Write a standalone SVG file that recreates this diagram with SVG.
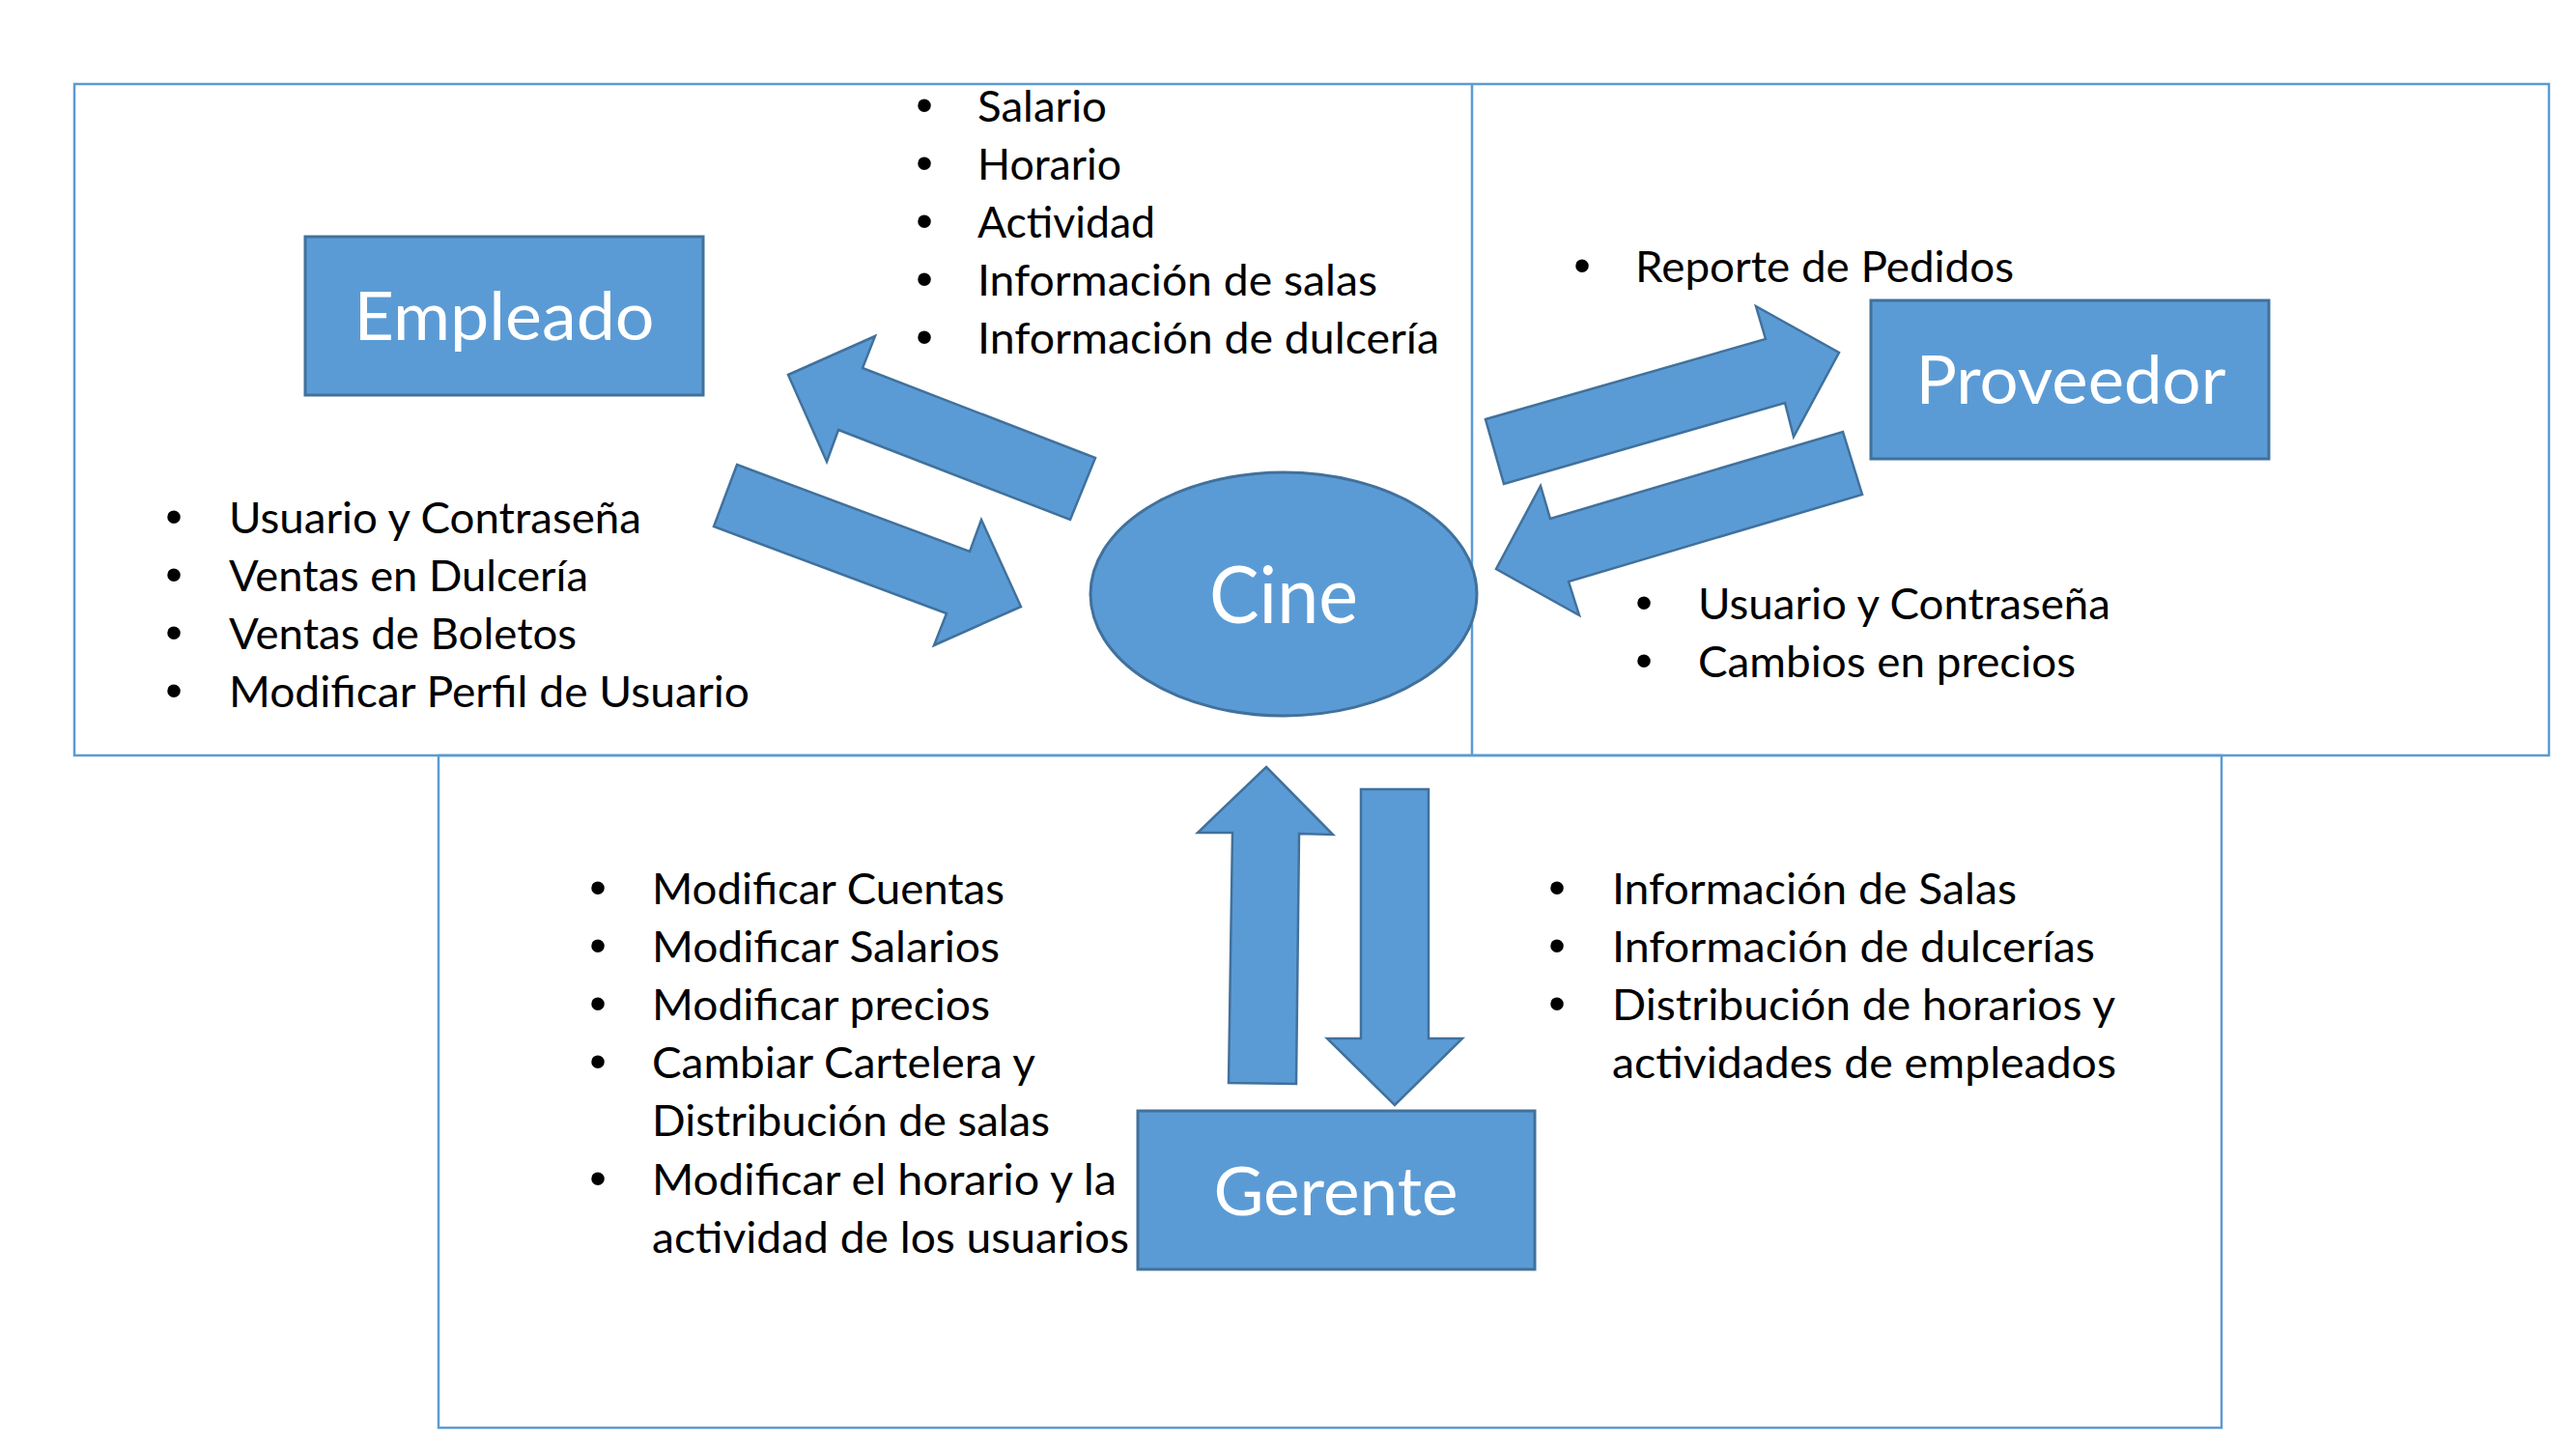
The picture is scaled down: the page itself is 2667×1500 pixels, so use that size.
<svg xmlns="http://www.w3.org/2000/svg" width="2667" height="1500" viewBox="0 0 2667 1500">
  <style>
    .frame { fill: none; stroke: #5B9BD5; stroke-width: 2.5; }
    .node { fill: #5B9BD5; stroke: #41719C; stroke-width: 3; }
    .arrow { fill: #5B9BD5; stroke: #41719C; stroke-width: 2.5; stroke-linejoin: miter; }
    .title { font-family: Lato, "Open Sans", sans-serif; font-size: 70px; fill: #FFFFFF; text-anchor: middle; }
    .cine { font-size: 81px; }
    .item { font-family: Lato, "Open Sans", sans-serif; font-size: 45px; fill: #000000; }
    .bullet { font-family: "Liberation Sans", Arial, sans-serif; font-size: 50px; fill: #000000; text-anchor: middle; }
  </style>
  <rect width="2667" height="1500" fill="#FFFFFF"/>

  <g id="frames">
    <rect class="frame" x="77" y="87" width="2562" height="695"/>
    <line class="frame" x1="1524" y1="87" x2="1524" y2="782"/>
    <rect class="frame" x="454" y="782" width="1846" height="696"/>
  </g>

  <g id="connectors">
    <polygon class="arrow" points="816,388 906,348 893,381 1134,474 1108,538 868,445 856,478"/>
    <polygon class="arrow" points="763,481 1004,571 1016,538 1057,628 967,668 980,635 739,545"/>
    <polygon class="arrow" points="1538,434 1828,351 1818,317 1904,365 1857,452 1848,417 1557,501"/>
    <polygon class="arrow" points="1908,447 1928,512 1624,602 1635,637 1549,589 1595,503 1605,537"/>
    <polygon class="arrow" points="1311,794 1380,864 1345,863 1342,1122 1272,1121 1276,862 1240,862"/>
    <polygon class="arrow" points="1409,817 1479,817 1479,1075 1514,1075 1444,1144 1374,1075 1409,1075"/>
  </g>

  <g id="empleado">
    <rect class="node" x="316" y="245" width="412" height="164"/>
    <text class="title" x="522" y="352" textLength="311" lengthAdjust="spacingAndGlyphs">Empleado</text>
  </g>

  <g id="cine">
    <ellipse class="node" cx="1329" cy="615" rx="200" ry="126"/>
    <text class="title cine" x="1329" y="645" textLength="154" lengthAdjust="spacingAndGlyphs">Cine</text>
  </g>

  <g id="proveedor">
    <rect class="node" x="1937" y="311" width="412" height="164"/>
    <text class="title" x="2144" y="418" textLength="321" lengthAdjust="spacingAndGlyphs">Proveedor</text>
  </g>

  <g id="gerente">
    <rect class="node" x="1178" y="1150" width="411" height="164"/>
    <text class="title" x="1383" y="1258" textLength="253" lengthAdjust="spacingAndGlyphs">Gerente</text>
  </g>

  <g id="list-empleado-recibe">
    <text class="bullet" x="957" y="126">•</text>
    <text class="bullet" x="957" y="186">•</text>
    <text class="bullet" x="957" y="246">•</text>
    <text class="bullet" x="957" y="306">•</text>
    <text class="bullet" x="957" y="366">•</text>
    <text class="item" x="1012" y="126" textLength="134" lengthAdjust="spacingAndGlyphs">Salario</text>
    <text class="item" x="1012" y="186" textLength="149" lengthAdjust="spacingAndGlyphs">Horario</text>
    <text class="item" x="1012" y="246" textLength="184" lengthAdjust="spacingAndGlyphs">Actividad</text>
    <text class="item" x="1012" y="306" textLength="414" lengthAdjust="spacingAndGlyphs">Información de salas</text>
    <text class="item" x="1012" y="366" textLength="478" lengthAdjust="spacingAndGlyphs">Información de dulcería</text>
  </g>

  <g id="list-empleado-envia">
    <text class="bullet" x="180" y="552">•</text>
    <text class="bullet" x="180" y="612">•</text>
    <text class="bullet" x="180" y="672">•</text>
    <text class="bullet" x="180" y="732">•</text>
    <text class="item" x="237" y="552" textLength="427" lengthAdjust="spacingAndGlyphs">Usuario y Contraseña</text>
    <text class="item" x="237" y="612" textLength="372" lengthAdjust="spacingAndGlyphs">Ventas en Dulcería</text>
    <text class="item" x="237" y="672" textLength="360" lengthAdjust="spacingAndGlyphs">Ventas de Boletos</text>
    <text class="item" x="237" y="732" textLength="539" lengthAdjust="spacingAndGlyphs">Modificar Perfil de Usuario</text>
  </g>

  <g id="list-proveedor-recibe">
    <text class="bullet" x="1638" y="292">•</text>
    <text class="item" x="1693" y="292" textLength="392" lengthAdjust="spacingAndGlyphs">Reporte de Pedidos</text>
  </g>

  <g id="list-proveedor-envia">
    <text class="bullet" x="1702" y="641">•</text>
    <text class="bullet" x="1702" y="701">•</text>
    <text class="item" x="1758" y="641" textLength="427" lengthAdjust="spacingAndGlyphs">Usuario y Contraseña</text>
    <text class="item" x="1758" y="701" textLength="391" lengthAdjust="spacingAndGlyphs">Cambios en precios</text>
  </g>

  <g id="list-gerente-envia">
    <text class="bullet" x="619" y="936">•</text>
    <text class="bullet" x="619" y="996">•</text>
    <text class="bullet" x="619" y="1056">•</text>
    <text class="bullet" x="619" y="1116">•</text>
    <text class="bullet" x="619" y="1237">•</text>
    <text class="item" x="675" y="936" textLength="365" lengthAdjust="spacingAndGlyphs">Modificar Cuentas</text>
    <text class="item" x="675" y="996" textLength="360" lengthAdjust="spacingAndGlyphs">Modificar Salarios</text>
    <text class="item" x="675" y="1056" textLength="350" lengthAdjust="spacingAndGlyphs">Modificar precios</text>
    <text class="item" x="675" y="1116" textLength="397" lengthAdjust="spacingAndGlyphs">Cambiar Cartelera y</text>
    <text class="item" x="675" y="1176" textLength="412" lengthAdjust="spacingAndGlyphs">Distribución de salas</text>
    <text class="item" x="675" y="1237" textLength="481" lengthAdjust="spacingAndGlyphs">Modificar el horario y la</text>
    <text class="item" x="675" y="1297" textLength="494" lengthAdjust="spacingAndGlyphs">actividad de los usuarios</text>
  </g>

  <g id="list-gerente-recibe">
    <text class="bullet" x="1612" y="936">•</text>
    <text class="bullet" x="1612" y="996">•</text>
    <text class="bullet" x="1612" y="1056">•</text>
    <text class="item" x="1669" y="936" textLength="419" lengthAdjust="spacingAndGlyphs">Información de Salas</text>
    <text class="item" x="1669" y="996" textLength="500" lengthAdjust="spacingAndGlyphs">Información de dulcerías</text>
    <text class="item" x="1669" y="1056" textLength="521" lengthAdjust="spacingAndGlyphs">Distribución de horarios y</text>
    <text class="item" x="1669" y="1116" textLength="522" lengthAdjust="spacingAndGlyphs">actividades de empleados</text>
  </g>
</svg>
